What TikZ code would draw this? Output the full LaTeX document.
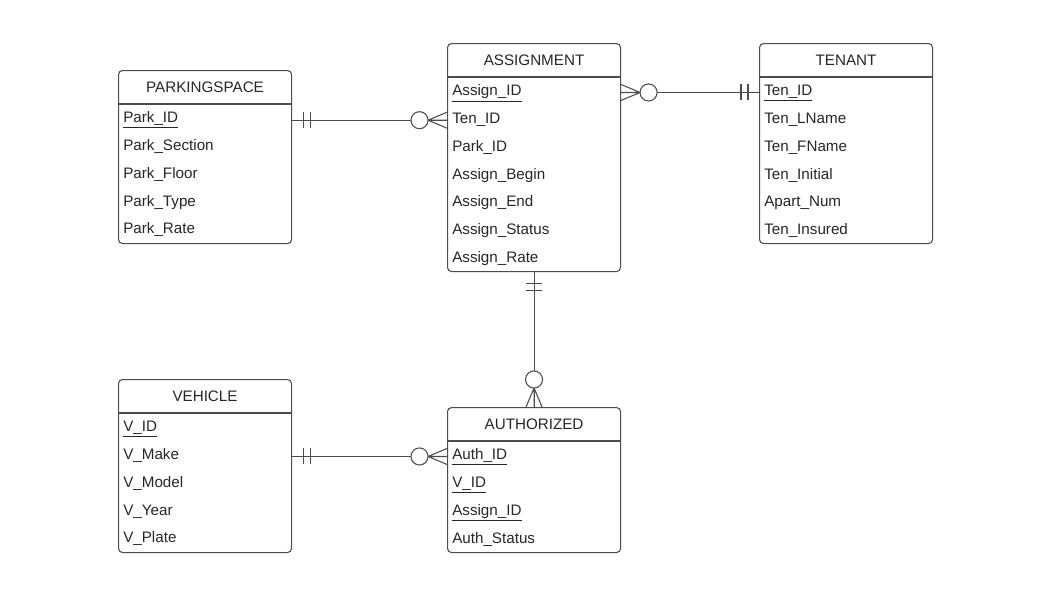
\documentclass[tikz,border=0pt]{standalone}
\usepackage{fontspec}
\setmainfont{Liberation Sans}
\usetikzlibrary{positioning,calc}

\begin{document}
\begin{tikzpicture}[
  x=0.75pt, y=-0.75pt,
  entity/.style={draw=black!70, rounded corners=3pt, line width=0.8pt, anchor=north west, minimum width=129.75pt, inner sep=0pt},
  ename/.style={font=\fontsize{11.4}{13}\selectfont, text=black!85},
  attr/.style={anchor=base west, inner sep=0pt, font=\fontsize{11.4}{13}\selectfont, text=black!85},
  hline/.style={draw=black!70, line width=0.8pt},
  rel/.style={draw=black!70, line width=0.8pt},
  zmany/.pic={\draw[rel] (0,-8) -- (-19,0) -- (0,8) (0,0) -- (-19,0);
              \draw[rel, fill=white] (-27.5,0) circle (6.4pt);},
  oneone/.pic={\draw[rel] (-11,-8) -- (-11,8) (-18,-8) -- (-18,8);}
]
\useasboundingbox (0,0) rectangle (1042,600);

% entities
\node[entity, minimum height=129.75pt] (park) at (118,70) {};
\node[ename] (park-t) at ([yshift=-12.75pt]park.north) {PARKINGSPACE};
\draw[hline] ([yshift=-25.5pt]park.north west) -- ([yshift=-25.5pt]park.north east);
\foreach \a [count=\i] in {\underline{Park\_ID}, Park\_Section, Park\_Floor, Park\_Type, Park\_Rate}
  \node[attr] (park-\i) at ([xshift=3.75pt, yshift={-39.6pt-(\i-1)*20.8pt}]park.north west) {\a};

\node[entity, minimum height=171pt] (assign) at (447,43) {};
\node[ename] (assign-t) at ([yshift=-12.75pt]assign.north) {ASSIGNMENT};
\draw[hline] ([yshift=-25.5pt]assign.north west) -- ([yshift=-25.5pt]assign.north east);
\foreach \a [count=\i] in {\underline{Assign\_ID}, Ten\_ID, Park\_ID, Assign\_Begin, Assign\_End, Assign\_Status, Assign\_Rate}
  \node[attr] (assign-\i) at ([xshift=3.75pt, yshift={-39.6pt-(\i-1)*20.8pt}]assign.north west) {\a};

\node[entity, minimum height=150pt] (tenant) at (759,43) {};
\node[ename] (tenant-t) at ([yshift=-12.75pt]tenant.north) {TENANT};
\draw[hline] ([yshift=-25.5pt]tenant.north west) -- ([yshift=-25.5pt]tenant.north east);
\foreach \a [count=\i] in {\underline{Ten\_ID}, Ten\_LName, Ten\_FName, Ten\_Initial, Apart\_Num, Ten\_Insured}
  \node[attr] (tenant-\i) at ([xshift=3.75pt, yshift={-39.6pt-(\i-1)*20.8pt}]tenant.north west) {\a};

\node[entity, minimum height=129.75pt] (vehicle) at (118,379) {};
\node[ename] (vehicle-t) at ([yshift=-12.75pt]vehicle.north) {VEHICLE};
\draw[hline] ([yshift=-25.5pt]vehicle.north west) -- ([yshift=-25.5pt]vehicle.north east);
\foreach \a [count=\i] in {\underline{V\_ID}, V\_Make, V\_Model, V\_Year, V\_Plate}
  \node[attr] (vehicle-\i) at ([xshift=3.75pt, yshift={-39.6pt-(\i-1)*20.8pt}]vehicle.north west) {\a};

\node[entity, minimum height=108.75pt] (auth) at (447,407) {};
\node[ename] (auth-t) at ([yshift=-12.75pt]auth.north) {AUTHORIZED};
\draw[hline] ([yshift=-25.5pt]auth.north west) -- ([yshift=-25.5pt]auth.north east);
\foreach \a [count=\i] in {\underline{Auth\_ID}, \underline{V\_ID}, \underline{Assign\_ID}, Auth\_Status}
  \node[attr] (auth-\i) at ([xshift=3.75pt, yshift={-39.6pt-(\i-1)*20.8pt}]auth.north west) {\a};

% relationships
\coordinate (r1) at ([yshift=-35.6pt-20.8pt-1.5pt]assign.north west);
\coordinate (r2) at ([yshift=-35.6pt-1.5pt]assign.north east);
\coordinate (r4) at ([yshift=-35.6pt-1.5pt]auth.north west);

\draw[rel] (park.east |- r1) -- (r1);
\path (park.east |- r1) pic[rotate=180] {oneone};
\path (r1) pic {zmany};

\draw[rel] (r2) -- (tenant.west |- r2);
\path (r2) pic[rotate=180] {zmany};
\path (tenant.west |- r2) pic {oneone};

\draw[rel] (assign.south) -- (auth.north);
\path (assign.south) pic[rotate=90] {oneone};
\path (auth.north) pic[rotate=-90] {zmany};

\draw[rel] (vehicle.east |- r4) -- (r4);
\path (vehicle.east |- r4) pic[rotate=180] {oneone};
\path (r4) pic {zmany};
\end{tikzpicture}
\end{document}
